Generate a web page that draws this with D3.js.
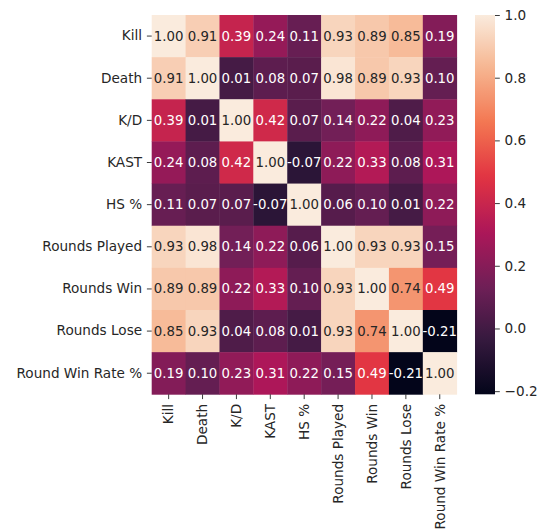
<!DOCTYPE html>
<html>
<head>
<meta charset="utf-8">
<script src="https://cdn.jsdelivr.net/npm/d3@7"></script>
<style>
  html, body { margin: 0; padding: 0; background: #fff; }
  svg { display: block; font-family: "DejaVu Sans", sans-serif; }
</style>
</head>
<body>
<svg id="chart" width="544" height="530"></svg>
<script>
// Variables in the correlation matrix (row and column order)
const variables = ["Kill", "Death", "K/D", "KAST", "HS %", "Rounds Played", "Rounds Win", "Rounds Lose", "Round Win Rate %"];

// Pearson correlation coefficients, one row per variable
const rowKill        = [1.00, 0.91, 0.39, 0.24, 0.11, 0.93, 0.89, 0.85, 0.19];
const rowDeath       = [0.91, 1.00, 0.01, 0.08, 0.07, 0.98, 0.89, 0.93, 0.10];
const rowKD          = [0.39, 0.01, 1.00, 0.42, 0.07, 0.14, 0.22, 0.04, 0.23];
const rowKAST        = [0.24, 0.08, 0.42, 1.00, -0.07, 0.22, 0.33, 0.08, 0.31];
const rowHS          = [0.11, 0.07, 0.07, -0.07, 1.00, 0.06, 0.10, 0.01, 0.22];
const rowPlayed      = [0.93, 0.98, 0.14, 0.22, 0.06, 1.00, 0.93, 0.93, 0.15];
const rowWin         = [0.89, 0.89, 0.22, 0.33, 0.10, 0.93, 1.00, 0.74, 0.49];
const rowLose        = [0.85, 0.93, 0.04, 0.08, 0.01, 0.93, 0.74, 1.00, -0.21];
const rowWinRate     = [0.19, 0.10, 0.23, 0.31, 0.22, 0.15, 0.49, -0.21, 1.00];
const matrix = [rowKill, rowDeath, rowKD, rowKAST, rowHS, rowPlayed, rowWin, rowLose, rowWinRate];

// Colour bar tick values
const colorbarTicks = [-0.2, 0.0, 0.2, 0.4, 0.6, 0.8, 1.0];

// "rocket" sequential colormap, sampled at a few anchor points
const rocketStops = ["#03051a", "#35193e", "#701f57", "#ad1759", "#e13342", "#f37651", "#f6b48f", "#faebdd"];
const rocket = d3.scaleLinear()
  .domain(rocketStops.map((_, i) => i / (rocketStops.length - 1)))
  .range(rocketStops)
  .interpolate(d3.interpolateRgb)
  .clamp(true);

const flat = matrix.flat();
const vmin = d3.min(flat), vmax = d3.max(flat);
const norm = d3.scaleLinear().domain([vmin, vmax]).range([0, 1]).clamp(true);
const colorOf = v => rocket(norm(v));

// Pick a readable annotation colour from the cell's relative luminance
function luminance(c) {
  const rgb = d3.rgb(c);
  const lin = x => { x /= 255; return x <= 0.03928 ? x / 12.92 : Math.pow((x + 0.055) / 1.055, 2.4); };
  return 0.2126 * lin(rgb.r) + 0.7152 * lin(rgb.g) + 0.0722 * lin(rgb.b);
}

const svg = d3.select("#chart");
const plot = { left: 151.7, top: 15, right: 456.7, bottom: 394.3 };
const cbar = { left: 475, right: 495 };
const fontSize = 13.6;
const textDark = "#262626";

const x = d3.scaleBand().domain(variables).range([plot.left, plot.right]);
const y = d3.scaleBand().domain(variables).range([plot.top, plot.bottom]);

// Cells
const cells = [];
matrix.forEach((row, i) => row.forEach((v, j) => cells.push({ r: variables[i], c: variables[j], v })));

svg.append("g").selectAll("rect").data(cells).join("rect")
  .attr("x", d => x(d.c))
  .attr("y", d => y(d.r))
  .attr("width", x.bandwidth() + 0.4)
  .attr("height", y.bandwidth() + 0.4)
  .attr("fill", d => colorOf(d.v));

// Annotations
svg.append("g").selectAll("text").data(cells).join("text")
  .attr("x", d => x(d.c) + x.bandwidth() / 2)
  .attr("y", d => y(d.r) + y.bandwidth() / 2)
  .attr("text-anchor", "middle")
  .attr("dominant-baseline", "central")
  .attr("font-size", 13.3)
  .attr("fill", d => luminance(colorOf(d.v)) > 0.408 ? textDark : "#ffffff")
  .text(d => d.v.toFixed(2));

// Axes
const yAxis = d3.axisLeft(y).tickSize(4.8).tickPadding(4.8);
const gy = svg.append("g").attr("transform", `translate(${plot.left},0)`).call(yAxis);
gy.select(".domain").remove();
gy.selectAll(".tick line").attr("stroke", textDark).attr("stroke-width", 0.9);
gy.selectAll(".tick text").attr("font-size", fontSize).attr("fill", textDark)
  .attr("font-family", "DejaVu Sans, sans-serif");

const xAxis = d3.axisBottom(x).tickSize(4.8).tickPadding(4.8);
const gx = svg.append("g").attr("transform", `translate(0,${plot.bottom})`).call(xAxis);
gx.select(".domain").remove();
gx.selectAll(".tick line").attr("stroke", textDark).attr("stroke-width", 0.9);
gx.selectAll(".tick text")
  .attr("font-size", fontSize).attr("fill", textDark)
  .attr("font-family", "DejaVu Sans, sans-serif")
  .attr("text-anchor", "end")
  .attr("dy", "0.35em")
  .attr("x", 0)
  .attr("y", 0)
  .attr("transform", "translate(0,9.6) rotate(-90)");

// Colour bar
const cy = d3.scaleLinear().domain([vmin, vmax]).range([plot.bottom, plot.top]);
const defs = svg.append("defs");
const grad = defs.append("linearGradient").attr("id", "cbarGrad")
  .attr("x1", 0).attr("y1", 1).attr("x2", 0).attr("y2", 0);
d3.range(0, 1.0001, 0.02).forEach(t => {
  grad.append("stop").attr("offset", t).attr("stop-color", rocket(t));
});
svg.append("rect")
  .attr("x", cbar.left).attr("y", cy(vmax))
  .attr("width", cbar.right - cbar.left)
  .attr("height", cy(vmin) - cy(vmax))
  .attr("fill", "url(#cbarGrad)");

const cAxis = d3.axisRight(cy).tickValues(colorbarTicks).tickSize(4.8).tickPadding(4.8)
  .tickFormat(d => d3.format(".1f")(d).replace("-", "\u2212"));
const gc = svg.append("g").attr("transform", `translate(${cbar.right},0)`).call(cAxis);
gc.select(".domain").remove();
gc.selectAll(".tick line").attr("stroke", textDark).attr("stroke-width", 0.9);
gc.selectAll(".tick text").attr("font-size", fontSize).attr("fill", textDark)
  .attr("font-family", "DejaVu Sans, sans-serif");
</script>
</body>
</html>
